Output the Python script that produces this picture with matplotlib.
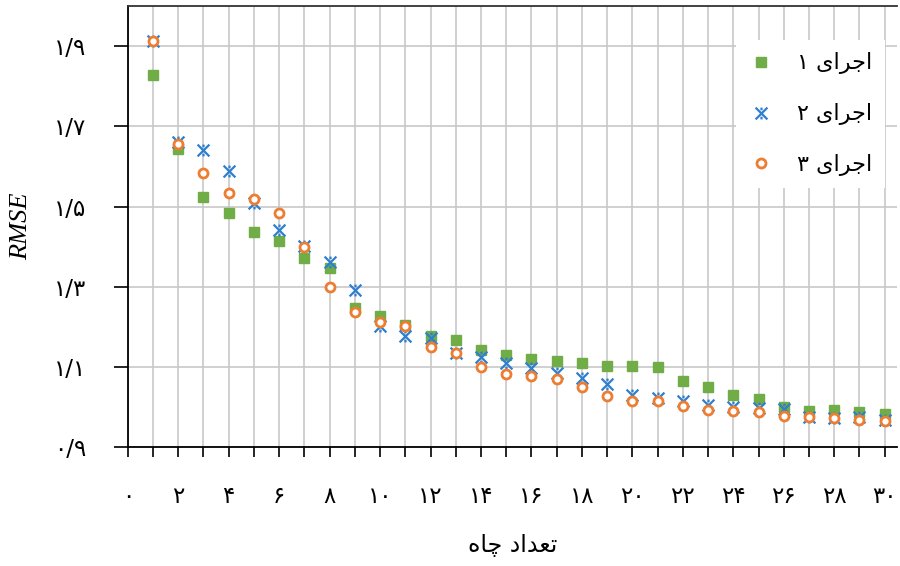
import matplotlib
matplotlib.use('Agg')
import matplotlib.pyplot as plt
from matplotlib.path import Path
from matplotlib.ticker import MultipleLocator, FixedLocator
import re

# ── data ──
wells = list(range(1, 31))
run1 = [1.828, 1.643, 1.524, 1.483, 1.437, 1.414, 1.373, 1.346, 1.247, 1.226,
        1.205, 1.178, 1.167, 1.142, 1.129, 1.119, 1.116, 1.109, 1.103, 1.103,
        1.100, 1.064, 1.049, 1.029, 1.020, 1.001, 0.991, 0.992, 0.987, 0.982]
run2 = [1.913, 1.661, 1.641, 1.588, 1.508, 1.441, 1.401, 1.362, 1.292, 1.201,
        1.178, 1.172, 1.134, 1.126, 1.109, 1.097, 1.086, 1.072, 1.057, 1.030,
        1.022, 1.014, 1.006, 1.001, 0.997, 0.995, 0.975, 0.972, 0.974, 0.968]
run3 = [1.913, 1.656, 1.583, 1.533, 1.518, 1.484, 1.400, 1.299, 1.236, 1.211,
        1.201, 1.149, 1.134, 1.099, 1.082, 1.078, 1.070, 1.050, 1.028, 1.014,
        1.014, 1.003, 0.993, 0.989, 0.987, 0.978, 0.975, 0.972, 0.968, 0.964]
series_labels = ['اجرای 1', 'اجرای 2', 'اجرای 3']
x_label = 'تعداد چاه'
y_label = 'RMSE'
x_ticks = list(range(0, 31, 2))
y_ticks = [0.9, 1.1, 1.3, 1.5, 1.7, 1.9]

# ── minimal persian shaping (matplotlib has no bidi / joining) ──
FORMS = {  # isolated, final, initial, medial
    'ا': ('\u0627', '\ufe8e', None, None),
    'د': ('\u062f', '\ufeaa', None, None),
    'ر': ('\u0631', '\ufeae', None, None),
    'ج': ('\u062c', '\ufe9e', '\ufe9f', '\ufea0'),
    'ی': ('\u06cc', '\ufbfd', '\ufbfe', '\ufbff'),
    'ت': ('\u062a', '\ufe96', '\ufe97', '\ufe98'),
    'ع': ('\u0639', '\ufeca', '\ufecb', '\ufecc'),
    'چ': ('\u0686', '\ufb7b', '\ufb7c', '\ufb7d'),
    'ه': ('\u0647', '\ufeea', '\ufeeb', '\ufeec'),
}
DIGITS = str.maketrans('0123456789.', '۰۱۲۳۴۵۶۷۸۹/')


def fa(s):
    s = s.translate(DIGITS)
    if not any(c in FORMS for c in s):
        return s  # plain numbers stay left-to-right
    out = []
    for i, c in enumerate(s):
        if c not in FORMS:
            out.append(c)
            continue
        prev = s[i - 1] if i > 0 else ''
        nxt = s[i + 1] if i + 1 < len(s) else ''
        jp = prev in FORMS and FORMS[prev][2] is not None
        jn = FORMS[c][2] is not None and nxt in FORMS
        f = FORMS[c]
        out.append(f[3] if jp and jn else f[1] if jp else f[2] if jn else f[0])
    # reverse for visual order, keeping digit runs intact
    runs = re.findall(r'[۰-۹/]+|.', ''.join(out))
    return ''.join(reversed(runs))


# excel-like star marker: x with short vertical ticks
star = Path([(-1, -1), (1, 1), (-1, 1), (1, -1), (0, -1), (0, -0.55), (0, 0.55), (0, 1)],
            [Path.MOVETO, Path.LINETO, Path.MOVETO, Path.LINETO,
             Path.MOVETO, Path.LINETO, Path.MOVETO, Path.LINETO])

plt.rcParams['font.family'] = ['DejaVu Sans']

fig = plt.figure(figsize=(9, 5.66), dpi=100)
ax = fig.add_axes([0.142, 0.21, 0.855, 0.779])

ax.plot(wells, run1, ls='none', marker='s', ms=7, color='#70AD47', label=fa(series_labels[0]), zorder=3)
ax.plot(wells, run2, ls='none', marker=star, ms=8.5, mew=1.6, color='#2E7FD0', label=fa(series_labels[1]), zorder=4)
ax.plot(wells, run3, ls='none', marker='o', ms=6.5, mew=2, mec='#ED7D31', mfc='white', label=fa(series_labels[2]), zorder=5)

ax.set_xlim(0, 30.5)
ax.set_ylim(0.9, 2.0)
ax.xaxis.set_major_locator(FixedLocator(x_ticks))
ax.xaxis.set_minor_locator(MultipleLocator(1))
ax.set_xticklabels([fa(str(t)) for t in x_ticks])
ax.set_yticks(y_ticks)
ax.set_yticklabels([fa(f'{t:.1f}') for t in y_ticks])

ax.grid(True, which='both', axis='x', color='#c8c8c8', lw=1.2, zorder=0)
ax.grid(True, which='major', axis='y', color='#c8c8c8', lw=1.2, zorder=0)
ax.set_axisbelow(True)
ax.tick_params(axis='x', which='both', direction='out', length=7, width=1.2, pad=20, labelsize=16.5)
ax.tick_params(axis='y', direction='out', length=10, width=1.2, pad=20, labelsize=16.5)
for s in ['left', 'bottom', 'top']:
    ax.spines[s].set_linewidth(1.3)
ax.spines['top'].set_color('#333333')
ax.spines['right'].set_visible(False)

ax.set_xlabel(fa(x_label), fontsize=17, labelpad=18)
ax.set_ylabel(y_label, fontsize=19, family='Liberation Serif', style='italic', labelpad=16)

leg = ax.legend(loc='upper right', bbox_to_anchor=(0.983, 0.929), bbox_transform=fig.transFigure,
                fontsize=16, frameon=True, fancybox=False, framealpha=1, edgecolor='none',
                facecolor='white', labelspacing=1.3, handlelength=1.1, handletextpad=1.1,
                borderpad=0.55, borderaxespad=0)

plt.savefig('out.png', dpi=100)
plt.close()
